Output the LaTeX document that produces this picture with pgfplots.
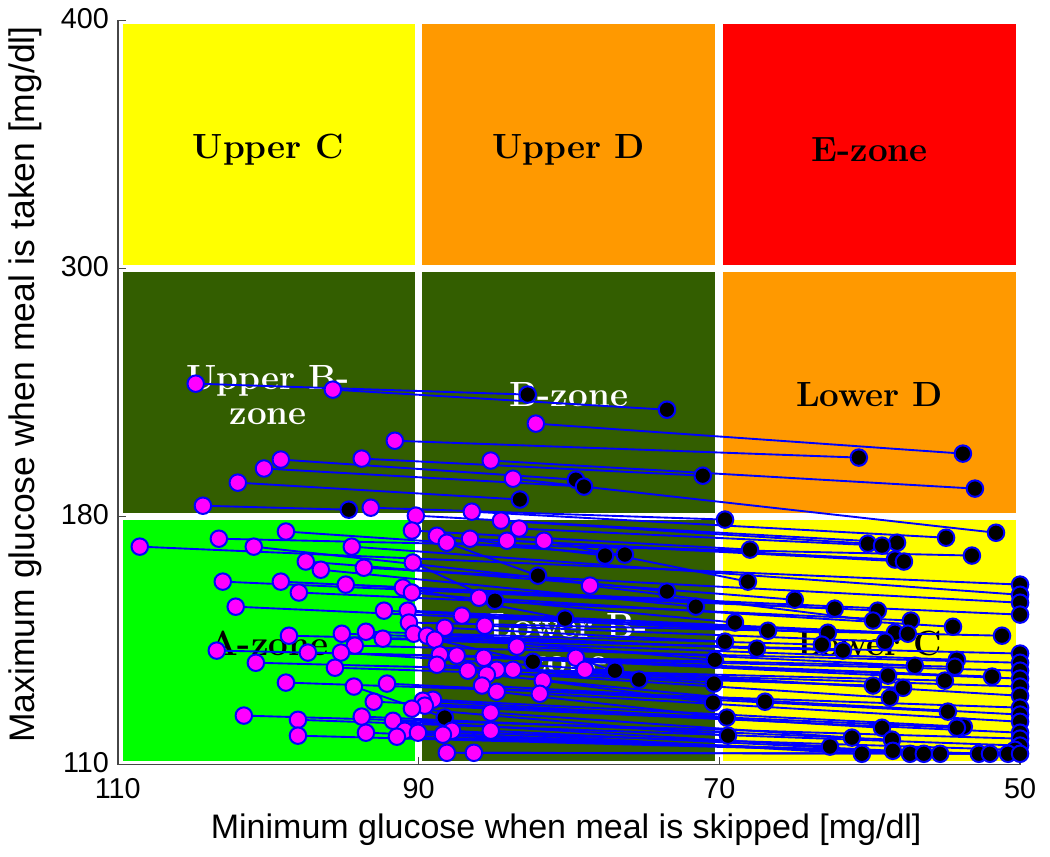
\documentclass[border=0pt]{standalone}
\usepackage{fontspec}
\usepackage{pgfplots}
\usepackage{pgfplotstable}
\pgfplotsset{compat=1.18}
\newfontfamily\lsans{Liberation Sans}
\definecolor{zyellow}{RGB}{255,255,0}
\definecolor{zorange}{RGB}{255,153,0}
\definecolor{zred}{RGB}{255,0,0}
\definecolor{zdgreen}{RGB}{51,94,0}
\definecolor{zgreen}{RGB}{0,255,0}
\definecolor{axgray}{RGB}{70,70,70}
\definecolor{mmag}{RGB}{255,0,255}
\definecolor{mblue}{RGB}{0,0,255}

% grid units: x 0..3 <-> 110,90,70,50 mg/dl ; y 0..3 <-> 110,180,300,400 mg/dl
\pgfplotstableread{
mx my bx by
0.259 1.536 1.363 1.492
0.715 1.512 1.826 1.431
1.390 1.375 2.810 1.254
0.921 1.306 2.464 1.238
0.811 1.234 1.945 1.165
0.542 1.230 1.523 1.149
0.486 1.194 1.550 1.121
1.240 1.226 2.850 1.113
0.399 1.137 1.337 1.069
0.283 1.044 0.768 1.028
0.841 1.036 2.019 0.988
1.314 1.153 2.920 0.935
1.177 1.020 2.754 0.915
0.991 1.004 2.591 0.895
1.274 0.984 2.494 0.891
1.334 0.952 2.541 0.883
0.978 0.944 2.102 0.867
0.559 0.940 1.686 0.847
1.061 0.923 1.620 0.843
0.336 0.911 2.840 0.843
1.171 0.911 2.584 0.827
1.294 0.903 2.614 0.819
1.417 0.903 2.095 0.738
1.094 0.895 1.397 0.762
0.073 0.879 3.000 0.726
0.452 0.879 1.826 0.698
0.778 0.879 3.000 0.685
0.625 0.819 2.251 0.665
0.981 0.815 1.254 0.661
0.818 0.794 3.000 0.653
0.675 0.786 1.922 0.637
0.349 0.738 2.384 0.629
0.542 0.738 2.527 0.621
0.758 0.726 3.000 0.605
0.948 0.714 1.487 0.589
1.570 0.722 2.511 0.581
0.602 0.694 2.637 0.581
0.978 0.694 2.052 0.573
1.201 0.673 2.777 0.556
0.392 0.637 2.162 0.540
0.885 0.621 2.361 0.532
0.964 0.621 2.584 0.532
1.144 0.601 2.627 0.528
0.968 0.573 2.940 0.520
1.220 0.560 2.551 0.496
1.087 0.552 2.019 0.496
0.825 0.536 2.341 0.484
0.984 0.528 2.125 0.468
0.745 0.528 2.411 0.460
0.569 0.520 3.000 0.448
1.028 0.520 1.985 0.423
0.881 0.508 2.790 0.423
1.054 0.504 1.380 0.415
0.788 0.480 3.000 0.411
1.327 0.476 2.650 0.399
0.329 0.460 2.783 0.395
0.742 0.452 1.653 0.379
0.632 0.452 3.000 0.379
1.071 0.444 2.561 0.359
1.127 0.440 2.907 0.355
1.217 0.431 3.000 0.347
1.523 0.431 1.733 0.343
0.459 0.411 2.750 0.339
1.061 0.403 1.982 0.327
0.722 0.391 2.511 0.319
1.260 0.383 3.000 0.315
1.314 0.383 2.611 0.310
1.553 0.383 3.000 0.278
1.164 0.379 2.567 0.270
1.227 0.363 2.152 0.254
1.413 0.339 1.979 0.250
0.559 0.331 3.000 0.230
0.895 0.327 2.760 0.214
1.211 0.319 3.000 0.202
0.785 0.315 1.087 0.190
1.260 0.294 2.025 0.190
1.403 0.286 3.000 0.173
1.048 0.262 2.813 0.153
1.014 0.258 2.541 0.149
0.851 0.254 2.790 0.149
1.021 0.238 3.000 0.129
0.978 0.226 2.029 0.117
1.240 0.210 2.441 0.109
0.419 0.198 3.000 0.105
0.811 0.194 2.574 0.101
0.599 0.181 3.000 0.077
0.915 0.177 2.368 0.073
0.954 0.137 2.983 0.060
1.240 0.137 2.577 0.056
1.111 0.137 2.474 0.044
0.998 0.129 2.634 0.044
0.825 0.129 2.680 0.044
1.081 0.121 2.734 0.044
0.599 0.117 2.863 0.044
0.928 0.113 2.900 0.044
1.094 0.048 2.960 0.044
1.184 0.048 3.000 0.044
}\pairs

\begin{document}
\begin{tikzpicture}
\begin{axis}[
  scale only axis, width=360.8pt, height=297.6pt,
  xmin=0, xmax=3, ymin=0, ymax=3,
  axis x line*=bottom, axis y line*=left,
  xtick={0,1,2,3}, xticklabels={110,90,70,50},
  ytick={0,1,2,3}, yticklabels={110,180,300,400},
  tick align=inside, major tick length=3.2pt,
  tick style={axgray, line width=0.6pt},
  axis line style={axgray, line width=0.6pt},
  tick label style={font=\lsans\fontsize{11.5}{12}\selectfont},
  xticklabel style={yshift=-2pt},
  yticklabel style={yshift=0.8pt},
  xlabel={Minimum glucose when meal is skipped [mg/dl]},
  ylabel={Maximum glucose when meal is taken [mg/dl]},
  xlabel style={at={(rel axis cs:0.497,-0.088)}, anchor=center, font=\lsans\fontsize{13.6}{14}\selectfont},
  ylabel style={at={(rel axis cs:-0.103,0.511)}, anchor=center, font=\lsans\fontsize{14.2}{15}\selectfont},
  clip=false,
]
\path (rel axis cs:-0.1296,-0.1237) rectangle (rel axis cs:1.0332,1.0242);
% zones
\pgfmathsetmacro{\dx}{0.013}
\pgfmathsetmacro{\dy}{0.015}
\fill[zgreen]   (axis cs:0+\dx+0.004,0+\dy) rectangle (axis cs:1-\dx,1-\dy);
\fill[zdgreen]  (axis cs:1+\dx,0+\dy) rectangle (axis cs:2-\dx,1-\dy);
\fill[zyellow]  (axis cs:2+\dx,0+\dy) rectangle (axis cs:3-\dx,1-\dy);
\fill[zdgreen]  (axis cs:0+\dx+0.004,1+\dy) rectangle (axis cs:1-\dx,2-\dy);
\fill[zdgreen]  (axis cs:1+\dx,1+\dy) rectangle (axis cs:2-\dx,2-\dy);
\fill[zorange]  (axis cs:2+\dx,1+\dy) rectangle (axis cs:3-\dx,2-\dy);
\fill[zyellow]  (axis cs:0+\dx+0.004,2+\dy) rectangle (axis cs:1-\dx,3-\dy);
\fill[zorange]  (axis cs:1+\dx,2+\dy) rectangle (axis cs:2-\dx,3-\dy);
\fill[zred]     (axis cs:2+\dx,2+\dy) rectangle (axis cs:3-\dx,3-\dy);
% zone labels
\tikzset{zl/.style={font=\bfseries\fontsize{14}{14}\selectfont, align=center}}
\node[zl, text=black] at (axis cs:0.5,2.48) {Upper C};
\node[zl, text=black] at (axis cs:1.5,2.48) {Upper D};
\node[zl, text=black] at (axis cs:2.5,2.48) {E-zone};
\node[zl, text=white] at (axis cs:0.5,1.49) {Upper B-\\zone};
\node[zl, text=white] at (axis cs:1.5,1.49) {B-zone};
\node[zl, text=black] at (axis cs:2.5,1.49) {Lower D};
\node[zl, text=black] at (axis cs:0.5,0.49) {A-zone};
\node[zl, text=white] at (axis cs:1.5,0.49) {Lower B-\\zone};
\node[zl, text=black] at (axis cs:2.5,0.49) {Lower C};
% connecting lines
\addplot[mblue, line width=0.75pt, no markers,
  quiver={u=\thisrow{bx}-\thisrow{mx}, v=\thisrow{by}-\thisrow{my}}]
  table[x=mx, y=my] {\pairs};
% end points
\addplot[only marks, mark=*, mark size=3.3pt,
  mark options={fill=black, draw=mblue, line width=0.8pt}]
  table[x=bx, y=by] {\pairs};
\addplot[only marks, mark=*, mark size=3.3pt,
  mark options={fill=mmag, draw=mblue, line width=0.8pt}]
  table[x=mx, y=my] {\pairs};
\end{axis}
\end{tikzpicture}
\end{document}
